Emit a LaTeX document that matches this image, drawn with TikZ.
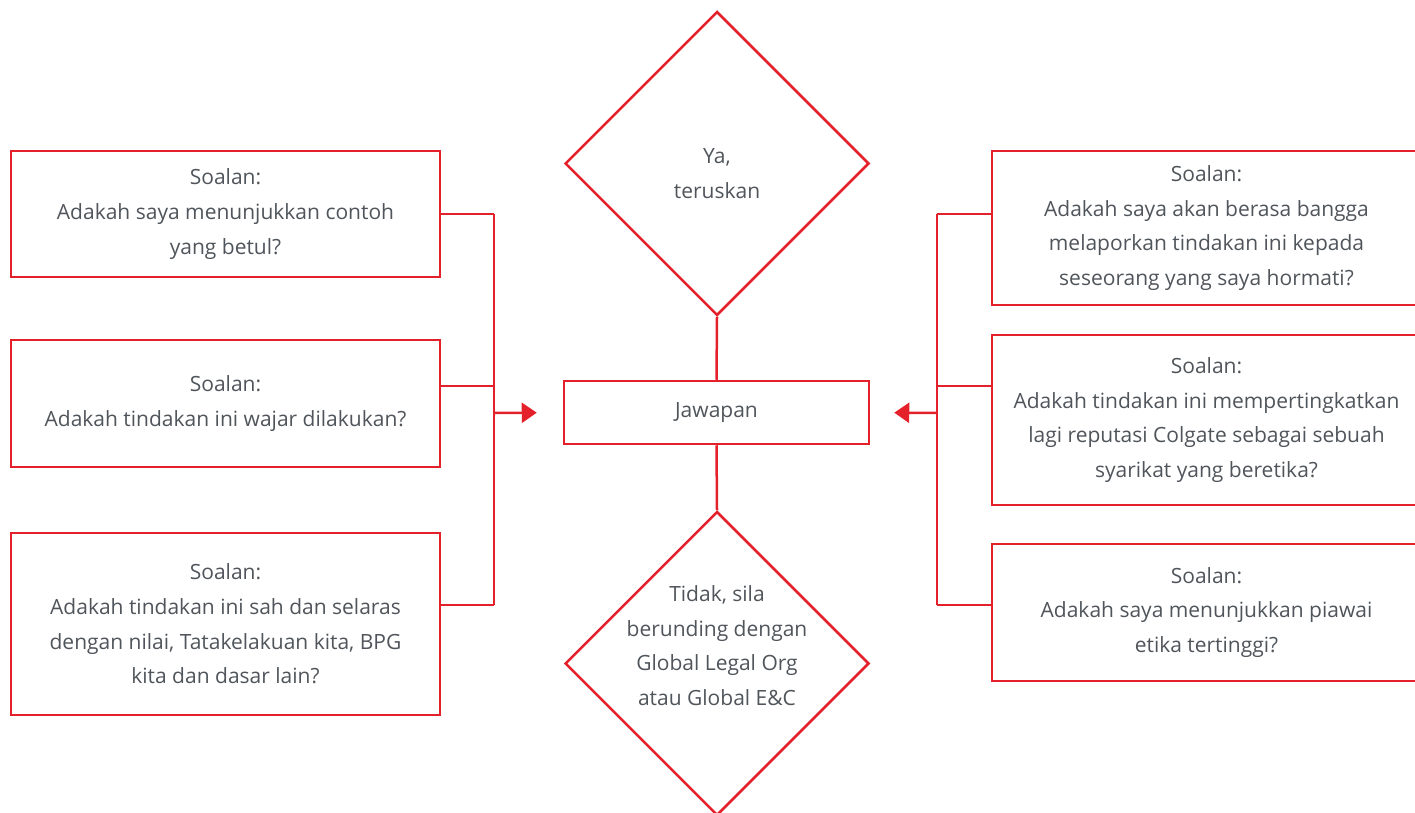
\documentclass[tikz,border=0pt]{standalone}
\usepackage{fontspec}
\setmainfont{Open Sans}
\usetikzlibrary{arrows.meta, shapes.geometric}
\definecolor{colred}{HTML}{E4202A}
\definecolor{txtgray}{HTML}{4F555B}

\begin{document}
\begin{tikzpicture}[x=1pt, y=-1pt]

\tikzset{box/.style = {shape=rectangle, draw=colred, line width=2.5pt, minimum width=429pt,
  align=center, text=txtgray, font=\fontsize{21}{34.7}\selectfont}}
\tikzset{choice/.style = {shape=diamond, draw=colred, line width=2.5pt, shape aspect=1,
  minimum size=304pt, inner sep=0pt}}
\tikzset{inside/.style = {text=txtgray, align=center, font=\fontsize{21}{34.7}\selectfont}}
\tikzset{link/.style = {draw=colred, line width=2.5pt}}
\tikzset{arr/.style = {link, -{Triangle[length=15pt, width=20pt]}}}

\useasboundingbox (0,0) rectangle (1415,813);
\clip (0,0) rectangle (1415,813);

% questions, left
\node[box, minimum height=126pt] (s1) at (225.5,214) {Soalan:\\Adakah saya menunjukkan contoh\\yang betul?};
\node[box, minimum height=127pt] (s2) at (225.5,403.5) {Soalan:\\Adakah tindakan ini wajar dilakukan?};
\node[box, minimum height=182pt] (s3) at (225.5,624) {Soalan:\\Adakah tindakan ini sah dan selaras\\dengan nilai, Tatakelakuan kita, BPG\\kita dan dasar lain?};
% questions, right
\node[box, minimum height=154pt] (s4) at (1206.5,228) {Soalan:\\Adakah saya akan berasa bangga\\melaporkan tindakan ini kepada\\seseorang yang saya hormati?};
\node[box, minimum height=170pt] (s5) at (1206.5,420) {Soalan:\\Adakah tindakan ini mempertingkatkan\\lagi reputasi Colgate sebagai sebuah\\syarikat yang beretika?};
\node[box, minimum height=137pt] (s6) at (1206.5,612.5) {Soalan:\\Adakah saya menunjukkan piawai\\etika tertinggi?};
% answer and outcomes
\node[box, minimum width=305pt, minimum height=63pt] (ans) at (716.5,412.5) {Jawapan};
\node[choice, label={[inside, yshift=-10pt]center:Ya,\\teruskan}] (ya) at (717,163.5) {};
\node[choice, label={[inside, yshift=18pt]center:Tidak, sila\\berunding dengan\\Global Legal Org\\atau Global E\&C}] (tidak) at (717,663.5) {};

% joints
\coordinate (l1) at (494,214);
\coordinate (l2) at (494,386);
\coordinate (l3) at (494,605);
\coordinate (la) at (494,413);
\coordinate (r1) at (937,214);
\coordinate (r2) at (937,386);
\coordinate (r3) at (937,605);
\coordinate (ra) at (937,413);

%edges
\draw[link] (ya.south) -- (ans.north);
\draw[link] (ans.south) -- (tidak.north);
\draw[link] (s1.east |- l1) -- (l1);
\draw[link] (s2.east |- l2) -- (l2);
\draw[link] (s3.east |- l3) -- (l3);
\draw[link] (l1) -- (l3);
\draw[arr, shorten >=26pt] (la) -- (ans.west);
\draw[link] (s4.west |- r1) -- (r1);
\draw[link] (s5.west |- r2) -- (r2);
\draw[link] (s6.west |- r3) -- (r3);
\draw[link] (r1) -- (r3);
\draw[arr, shorten >=24pt] (ra) -- (ans.east);
\end{tikzpicture}
\end{document}
